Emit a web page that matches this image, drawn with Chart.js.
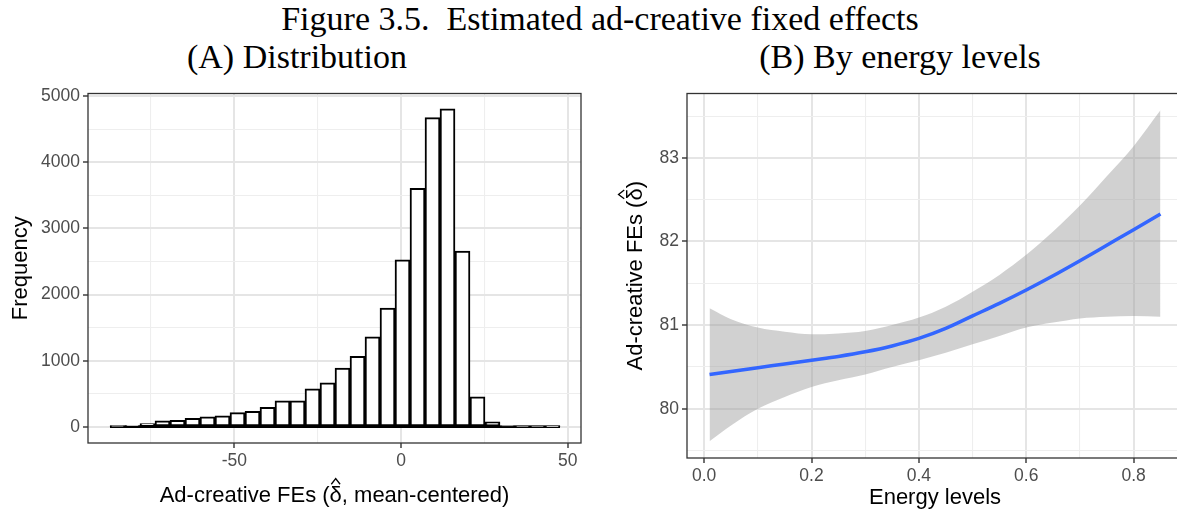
<!DOCTYPE html>
<html>
<head>
<meta charset="utf-8">
<script src="https://cdn.jsdelivr.net/npm/chart.js@4.4.1/dist/chart.umd.min.js"></script>
<style>
  html, body { margin: 0; padding: 0; background: #fff; overflow: hidden; }
  #fig { position: relative; width: 1177px; height: 513px; overflow: hidden; }
  .head { position: absolute; font-family: "Liberation Serif", serif; color: #000; white-space: nowrap; text-align: center; font-size: 34px; line-height: 36px; }
  #cnvLeft { position: absolute; left: 0; top: 80px; }
  #cnvRight { position: absolute; left: 600px; top: 80px; }
</style>
</head>
<body>
<div id="fig">
  <div class="head" style="left:0; width:1200px; top:1px;">Figure 3.5.&nbsp; Estimated ad-creative fixed effects</div>
  <div class="head" style="left:0; width:594px; top:39px;">(A) Distribution</div>
  <div class="head" style="left:600px; width:600px; top:39px;">(B) By energy levels</div>
  <canvas id="cnvLeft" width="590" height="433"></canvas>
  <canvas id="cnvRight" width="583" height="433"></canvas>
</div>
<script>
// histograma dos efeitos fixos (30 classes)
const binStart = -87.3;
const binWidth = 4.5;
const binCounts = [8, 20, 50, 90, 100, 130, 150, 165, 215, 235, 295, 395, 395, 575, 665,
                   890, 1066, 1360, 1794, 2526, 3607, 4674, 4808, 2656, 453, 75, 15, 4, 2, 1];
const histXMajor = [-50, 0, 50];
const histXMinor = [-75, -25, 25];
const histYMajor = [0, 1000, 2000, 3000, 4000, 5000];
const histYMinor = [500, 1500, 2500, 3500, 4500];

// curva suavizada por nível de energia
const energy    = [0.01, 0.05, 0.10, 0.15, 0.20, 0.25, 0.30, 0.35, 0.40,
                   0.45, 0.50, 0.55, 0.60, 0.65, 0.70, 0.75, 0.80, 0.85];
const fitValues = [80.41, 80.445, 80.49, 80.535, 80.58, 80.625, 80.68, 80.75, 80.84,
                   80.96, 81.11, 81.26, 81.42, 81.59, 81.77, 81.955, 82.14, 82.33];
const ciUpper   = [81.20, 81.07, 80.97, 80.92, 80.89, 80.90, 80.93, 81.00, 81.09,
                   81.22, 81.40, 81.60, 81.84, 82.12, 82.43, 82.78, 83.14, 83.57];
const ciLower   = [79.61, 79.80, 80.00, 80.14, 80.26, 80.34, 80.41, 80.50, 80.58,
                   80.67, 80.77, 80.87, 80.97, 81.03, 81.08, 81.10, 81.11, 81.10];
const energyMajor = [0, 0.2, 0.4, 0.6, 0.8];
const energyMinor = [0.1, 0.3, 0.5, 0.7];
const fesMajor = [80, 81, 82, 83];
const fesMinor = [79.5, 80.5, 81.5, 82.5, 83.5];

const sans = "'Liberation Sans', Arial, sans-serif";
const tickFont = { family: sans, size: 17.5 };
const titleSize = 22;

// borda do painel (estilo theme_bw)
const panelBorder = {
  id: 'panelBorder',
  afterDatasetsDraw(chart) {
    const a = chart.chartArea, c = chart.ctx;
    c.save();
    c.strokeStyle = '#333333';
    c.lineWidth = 1.3;
    c.strokeRect(a.left, a.top, a.right - a.left, a.bottom - a.top);
    c.restore();
  }
};

// títulos dos eixos, com chapéu sobre o delta
const axisTitles = {
  id: 'axisTitles',
  afterDraw(chart, args, opts) {
    const c = chart.ctx, a = chart.chartArea;
    for (const t of opts.items) {
      const [pre, sym, post] = t.parts;
      c.save();
      c.font = titleSize + 'px ' + sans;
      c.fillStyle = '#000';
      c.strokeStyle = '#000';
      c.textAlign = 'left';
      c.textBaseline = 'alphabetic';
      const wPre = c.measureText(pre).width;
      const mSym = sym ? c.measureText(sym) : null;
      const wSym = mSym ? mSym.width : 0;
      const wPost = post ? c.measureText(post).width : 0;
      const total = wPre + wSym + wPost;
      if (t.axis === 'x') {
        c.translate((a.left + a.right) / 2, t.base);
      } else {
        c.translate(t.base, (a.top + a.bottom) / 2);
        c.rotate(-Math.PI / 2);
      }
      let x = -total / 2;
      c.fillText(pre, x, 0);
      x += wPre;
      if (sym) {
        c.fillText(sym, x, 0);
        const mid = x + wSym / 2;
        const yb = -(mSym.actualBoundingBoxAscent + titleSize * 0.08);
        c.beginPath();
        c.moveTo(mid - titleSize * 0.2, yb);
        c.lineTo(mid, yb - titleSize * 0.26);
        c.lineTo(mid + titleSize * 0.2, yb);
        c.lineWidth = 1.3;
        c.stroke();
        x += wSym;
        c.fillText(post, x, 0);
      }
      c.restore();
    }
  }
};

function gridAxis(major, minor, fmt, extra) {
  const has = v => major.some(m => Math.abs(m - v) < 1e-9);
  const isMajor = c => !!(c.tick && has(c.tick.value));
  return Object.assign({
    type: 'linear',
    offset: false,
    afterBuildTicks: s => { s.ticks = major.concat(minor).sort((p, q) => p - q).map(v => ({ value: v })); },
    ticks: {
      autoSkip: false, maxRotation: 0, color: '#4d4d4d', font: tickFont, padding: 3,
      callback: v => has(v) ? fmt(v) : ''
    },
    grid: {
      offset: false,
      drawTicks: true, tickLength: 5,
      color: c => isMajor(c) ? '#e5e5e5' : '#eeeeee',
      lineWidth: c => isMajor(c) ? 2 : 1.1,
      tickColor: c => isMajor(c) ? '#333333' : 'rgba(0,0,0,0)',
      tickWidth: 1.4
    },
    border: { display: false },
    title: { display: false }
  }, extra);
}

// painel A
const histData = binCounts.map((n, i) => ({ x: binStart + binWidth * (i + 0.5), y: n }));
const baseLine = [{ x: binStart, y: 0 }, { x: binStart + binWidth * binCounts.length, y: 0 }];

new Chart(document.getElementById('cnvLeft').getContext('2d'), {
  type: 'bar',
  data: {
    datasets: [{
      data: histData,
      backgroundColor: '#ffffff',
      borderColor: '#000000',
      borderWidth: 2,
      borderSkipped: false,
      barPercentage: 1,
      categoryPercentage: 1
    }, {
      type: 'line',
      data: baseLine,
      borderColor: '#000000',
      borderWidth: 2.5,
      pointRadius: 0
    }]
  },
  options: {
    responsive: false,
    animation: false,
    layout: { padding: { top: 10, right: 9, left: 0, bottom: 0 } },
    plugins: {
      legend: { display: false },
      tooltip: { enabled: false },
      axisTitles: { items: [
        { axis: 'x', base: 422, parts: ['Ad-creative FEs (', 'δ', ', mean-centered)'] },
        { axis: 'y', base: 27, parts: ['Frequency'] }
      ] }
    },
    scales: {
      x: gridAxis(histXMajor, histXMinor, v => String(v), {
        min: -93.9, max: 54.0,
        afterFit: s => { s.height = 70; }
      }),
      y: gridAxis(histYMajor, histYMinor, v => String(v), {
        min: -244, max: 5039,
        afterFit: s => { s.width = 88; }
      })
    }
  },
  plugins: [panelBorder, axisTitles]
});

// painel B (a curva vem primeiro para ficar por cima da faixa)
const pts = ys => energy.map((e, i) => ({ x: e, y: ys[i] }));

new Chart(document.getElementById('cnvRight').getContext('2d'), {
  type: 'line',
  data: {
    datasets: [{
      data: pts(fitValues),
      borderColor: '#3366FF',
      borderWidth: 3.5,
      pointRadius: 0,
      cubicInterpolationMode: 'monotone',
      fill: false
    }, {
      data: pts(ciLower),
      borderWidth: 0,
      pointRadius: 0,
      cubicInterpolationMode: 'monotone',
      fill: false
    }, {
      data: pts(ciUpper),
      borderWidth: 0,
      pointRadius: 0,
      cubicInterpolationMode: 'monotone',
      backgroundColor: 'rgba(153,153,153,0.45)',
      fill: '-1'
    }]
  },
  options: {
    responsive: false,
    animation: false,
    layout: { padding: { top: 10, right: 0, left: 0, bottom: 0 } },
    plugins: {
      legend: { display: false },
      tooltip: { enabled: false },
      axisTitles: { items: [
        { axis: 'x', base: 424, parts: ['Energy levels'] },
        { axis: 'y', base: 42, parts: ['Ad-creative FEs (', 'δ', ')'] }
      ] }
    },
    scales: {
      x: gridAxis(energyMajor, energyMinor, v => v.toFixed(1), {
        min: -0.032, max: 0.892,
        afterFit: s => { s.height = 55; }
      }),
      y: gridAxis(fesMajor, fesMinor, v => String(v), {
        min: 79.41, max: 83.77,
        afterFit: s => { s.width = 87; }
      })
    }
  },
  plugins: [panelBorder, axisTitles]
});
</script>
</body>
</html>
